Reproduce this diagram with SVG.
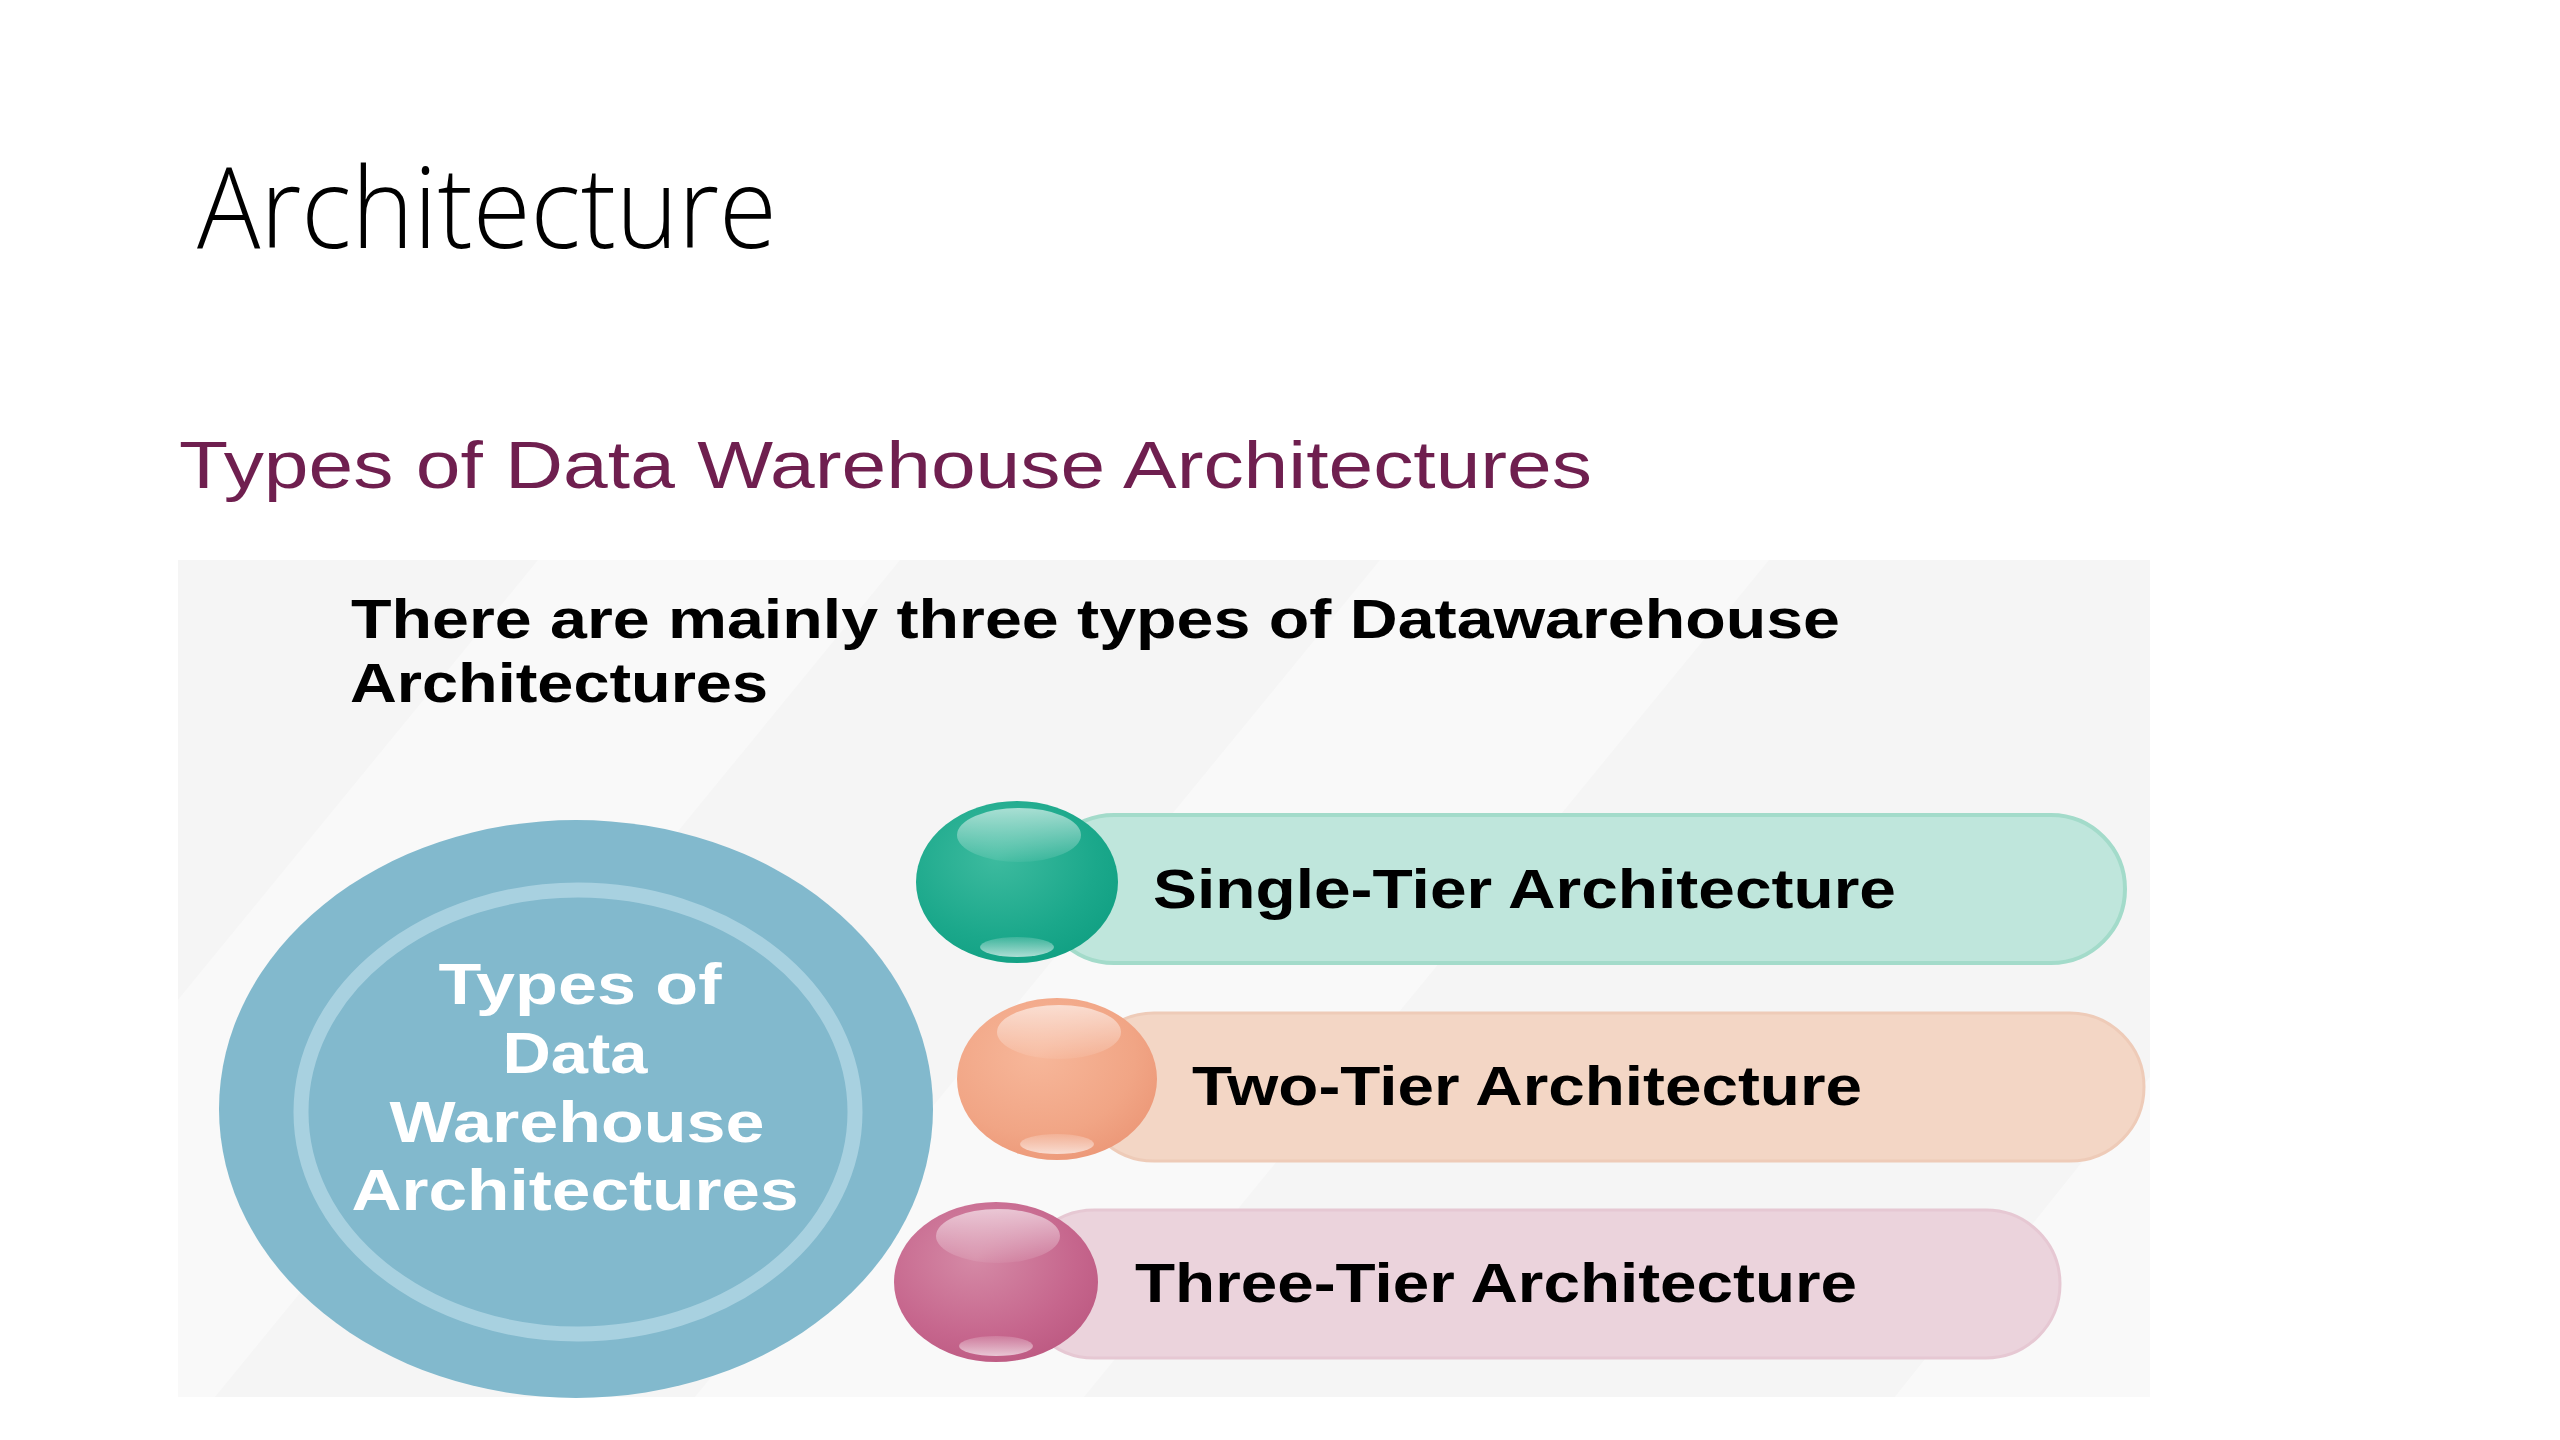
<svg xmlns="http://www.w3.org/2000/svg" width="2560" height="1440" viewBox="0 0 2560 1440">
<style>
.title{font-family:"Open Sans","Liberation Sans",sans-serif;font-weight:300;font-size:112px;fill:#000}
.sub{font-family:"Liberation Sans",Arial,sans-serif;font-size:66px;fill:#6F1F4F}
.hdr{font-family:"Liberation Sans",Arial,sans-serif;font-weight:bold;font-size:56px;fill:#000}
.ctext{font-family:"Liberation Sans",Arial,sans-serif;font-weight:bold;font-size:57px;fill:#fff;text-anchor:middle}
.ptext{font-family:"Liberation Sans",Arial,sans-serif;font-weight:bold;font-size:56px;fill:#000}
.hl{fill:url(#hlTop)}
.hb{fill:url(#hlBot)}
</style>
<defs>
<clipPath id="panelClip"><rect x="178" y="560" width="1972" height="837"/></clipPath>
<radialGradient id="gTeal" cx="0.4" cy="0.35" r="0.7">
<stop offset="0" stop-color="#3DBB9F"/><stop offset="0.7" stop-color="#1BA88B"/><stop offset="1" stop-color="#11A083"/>
</radialGradient>
<radialGradient id="gOrange" cx="0.4" cy="0.35" r="0.7">
<stop offset="0" stop-color="#F7B79A"/><stop offset="0.7" stop-color="#F1A585"/><stop offset="1" stop-color="#EC9878"/>
</radialGradient>
<radialGradient id="gPink" cx="0.4" cy="0.35" r="0.7">
<stop offset="0" stop-color="#D58AA6"/><stop offset="0.7" stop-color="#C6668D"/><stop offset="1" stop-color="#BD5A82"/>
</radialGradient>
<linearGradient id="hlTop" x1="0" y1="0" x2="0" y2="1">
<stop offset="0" stop-color="#fff" stop-opacity="0.6"/><stop offset="1" stop-color="#fff" stop-opacity="0.06"/>
</linearGradient>
<linearGradient id="hlBot" x1="0" y1="0" x2="0" y2="1">
<stop offset="0" stop-color="#fff" stop-opacity="0.15"/><stop offset="1" stop-color="#fff" stop-opacity="0.65"/>
</linearGradient>
</defs>
<rect width="2560" height="1440" fill="#ffffff"/>
<text class="title" x="197" y="248" textLength="580" lengthAdjust="spacingAndGlyphs">Architecture</text>
<text class="sub" x="179" y="488" textLength="1413" lengthAdjust="spacingAndGlyphs">Types of Data Warehouse Architectures</text>
<g id="panel">
<rect x="178" y="560" width="1972" height="837" fill="#F5F5F5"/>
<g clip-path="url(#panelClip)" fill="#F9F9F9">
<polygon points="538,560 900,560 210,1403 -152,1403"/>
<polygon points="1380,560 1769,560 1079,1403 690,1403"/>
<polygon points="2562,560 2700,560 2700,1403 1890,1403"/>
</g>
</g>
<g id="header">
<text class="hdr" x="351" y="638" textLength="1489" lengthAdjust="spacingAndGlyphs">There are mainly three types of Datawarehouse</text>
<text class="hdr" x="350" y="702" textLength="418" lengthAdjust="spacingAndGlyphs">Architectures</text>
</g>
<g id="connectors"></g>
<g id="center-circle">
<ellipse cx="576" cy="1109" rx="357" ry="289" fill="#82B9CD"/>
<ellipse cx="578" cy="1112" rx="277" ry="222" fill="none" stroke="#A8D1E0" stroke-width="15"/>
<text class="ctext" x="580" y="1004" textLength="283" lengthAdjust="spacingAndGlyphs">Types of</text>
<text class="ctext" x="575" y="1073" textLength="145" lengthAdjust="spacingAndGlyphs">Data</text>
<text class="ctext" x="577" y="1142" textLength="375" lengthAdjust="spacingAndGlyphs">Warehouse</text>
<text class="ctext" x="575" y="1210" textLength="447" lengthAdjust="spacingAndGlyphs">Architectures</text>
</g>
<g id="single-tier">
<rect x="1040" y="815" width="1085" height="148" rx="74" ry="74" fill="#BFE6DC" stroke="#A3DBCA" stroke-width="4"/>
<ellipse cx="1017" cy="882" rx="101" ry="81" fill="url(#gTeal)"/>
<ellipse class="hl" cx="1019" cy="835" rx="62" ry="27"/>
<ellipse class="hb" cx="1017" cy="947" rx="37" ry="10"/>
<text class="ptext" x="1153" y="908" textLength="743" lengthAdjust="spacingAndGlyphs">Single-Tier Architecture</text>
</g>
<g id="two-tier">
<rect x="1080" y="1013" width="1064" height="148" rx="74" ry="74" fill="#F3D6C5" stroke="#EECBB8" stroke-width="3"/>
<ellipse cx="1057" cy="1079" rx="100" ry="81" fill="url(#gOrange)"/>
<ellipse class="hl" cx="1059" cy="1032" rx="62" ry="27"/>
<ellipse class="hb" cx="1057" cy="1144" rx="37" ry="10"/>
<text class="ptext" x="1192" y="1105" textLength="670" lengthAdjust="spacingAndGlyphs">Two-Tier Architecture</text>
</g>
<g id="three-tier">
<rect x="1020" y="1210" width="1040" height="148" rx="74" ry="74" fill="#EBD3DC" stroke="#E6C8D3" stroke-width="3"/>
<ellipse cx="996" cy="1282" rx="102" ry="80" fill="url(#gPink)"/>
<ellipse class="hl" cx="998" cy="1236" rx="62" ry="27"/>
<ellipse class="hb" cx="996" cy="1346" rx="37" ry="10"/>
<text class="ptext" x="1135" y="1302" textLength="722" lengthAdjust="spacingAndGlyphs">Three-Tier Architecture</text>
</g>
</svg>
